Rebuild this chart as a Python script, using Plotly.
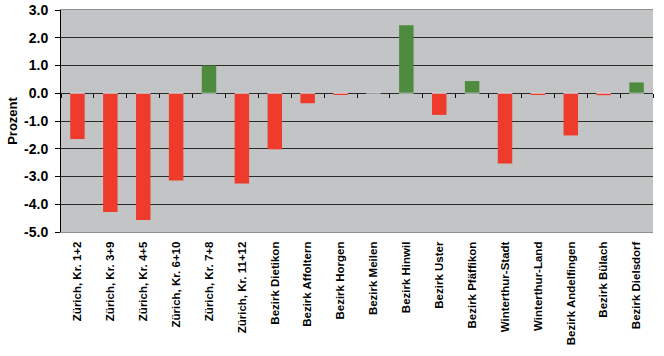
import plotly.graph_objects as go

categories = ["Zürich, Kr. 1+2", "Zürich, Kr. 3+9", "Zürich, Kr. 4+5", "Zürich, Kr. 6+10",
              "Zürich, Kr. 7+8", "Zürich, Kr. 11+12", "Bezirk Dietikon", "Bezirk Affoltern",
              "Bezirk Horgen", "Bezirk Meilen", "Bezirk Hinwil", "Bezirk Uster",
              "Bezirk Pfäffikon", "Winterthur-Stadt", "Winterthur-Land", "Bezirk Andelfingen",
              "Bezirk Bülach", "Bezirk Dielsdorf"]
values = [-1.65, -4.28, -4.57, -3.14, 1.0, -3.25, -2.02, -0.36, -0.05, 0.0, 2.45, -0.78,
          0.44, -2.53, -0.05, -1.52, -0.07, 0.39]
y_ticks = [3, 2, 1, 0, -1, -2, -3, -4, -5]
y_tick_labels = ["3.0", "2.0", "1.0", "0.0", "-1.0", "-2.0", "-3.0", "-4.0", "-5.0"]

RED = "#EE3B2B"
GREEN = "#4F8B3F"
colors = [GREEN if v > 0 else RED for v in values]

fig = go.Figure()
fig.add_trace(go.Bar(x=categories, y=values, marker=dict(color=colors, line=dict(width=0)),
                     hoverinfo="x+y"))
# invisible trace on second axis to draw boundary ticks at the zero line
fig.add_trace(go.Bar(x=categories, y=[0] * len(categories), xaxis="x2", showlegend=False,
                     hoverinfo="skip", marker=dict(color="rgba(0,0,0,0)")))

fig.update_layout(
    width=664, height=356,
    margin=dict(l=61, r=11, t=10, b=124),
    paper_bgcolor="white",
    plot_bgcolor="#C3C4C6",
    bargap=0.56,
    showlegend=False,
    font=dict(family="Liberation Sans, Arial, sans-serif", color="black"),
    xaxis=dict(
        automargin=False,
        tickangle=-90,
        tickfont=dict(size=11.5, family="Liberation Sans, Arial, sans-serif", weight="bold"),
        showline=True, linecolor="#909090", linewidth=1, mirror=True,
        ticks="", showgrid=False, ticklabelstandoff=4,
    ),
    xaxis2=dict(
        overlaying="x", anchor="free", position=5 / 8,
        showticklabels=False, ticks="outside", ticklen=4, tickcolor="black",
        tickson="boundaries", showline=False, showgrid=False,
        matches="x", automargin=False,
    ),
    yaxis=dict(
        automargin=False,
        range=[-5, 3],
        tickvals=y_ticks, ticktext=y_tick_labels,
        tickfont=dict(size=14, weight="bold"),
        ticks="outside", ticklen=5, tickcolor="black", ticklabelstandoff=4,
        showline=True, linecolor="black", linewidth=1,
        showgrid=True, gridcolor="#2A2A2A", gridwidth=1,
        zeroline=True, zerolinecolor="#2A2A2A", zerolinewidth=1,
        title=dict(text="Prozent", font=dict(size=13, weight="bold"), standoff=3),
    ),
)

fig.write_html("out.html", config={"displayModeBar": False},
               post_script="document.body.style.margin='0';document.body.style.overflow='hidden';")
